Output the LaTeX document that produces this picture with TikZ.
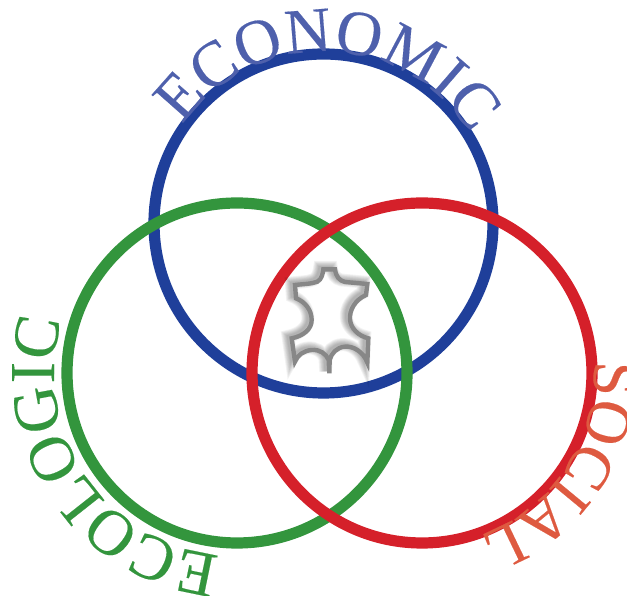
\documentclass[tikz,border=0pt]{standalone}
\usepackage{fontspec}
\setmainfont[FakeBold=0.25]{Liberation Serif}
\usetikzlibrary{decorations.text,calc}
\definecolor{ringblue}{HTML}{1F3F9A}
\definecolor{ringgreen}{HTML}{33953D}
\definecolor{ringred}{HTML}{D5202A}
\definecolor{wordblue}{HTML}{4E60AC}
\definecolor{wordgreen}{HTML}{33953D}
\definecolor{wordred}{HTML}{DE5A40}
\tikzset{
  ring/.style={line width=11.2pt},
  arcword/.style={decorate,decoration={text along path,text align={fit to path},text={#1}}},
}
\newcommand{\hidepath}{(45,75) .. controls (70,72) and (95,72) .. (112,65)
  .. controls (125,58) and (128,42) .. (130,28) -- (165,28)
  .. controls (168,50) and (178,62) .. (195,66) -- (262,72) -- (258,105)
  .. controls (225,120) and (208,150) .. (210,178)
  .. controls (212,205) and (235,228) .. (265,235) -- (262,308)
  .. controls (250,275) and (220,258) .. (195,260)
  .. controls (170,262) and (154,280) .. (149,300) -- (148,340) -- (146,300)
  .. controls (138,280) and (118,268) .. (95,270)
  .. controls (72,272) and (52,285) .. (45,305) -- (35,235)
  .. controls (70,228) and (95,208) .. (95,180)
  .. controls (95,150) and (75,125) .. (48,115) -- cycle}
\begin{document}
\begin{tikzpicture}[x=1pt,y=1pt]
\useasboundingbox (0,0) rectangle (627,596);
\clip (0,0) rectangle (627,596);
\coordinate (cb) at (323.5,372.5);
\coordinate (cg) at (237,223);
\coordinate (cr) at (422,223);
\draw[ring,ringblue] (cb) circle[radius=169.5pt];
\draw[ring,ringgreen] (cg) circle[radius=170pt];
\draw[ring,ringred] (cr) circle[radius=170pt];
% leather hide emblem
\begin{scope}[shift={(280,336)},x=0.3333pt,y=-0.3333pt,line join=miter]
  \begin{scope}[shift={(-11,-6)}]
    \foreach \w in {13,11.5,10,8.5,7,5.5,4,2.5}
      \draw[black,opacity=0.045,line width=\w pt] \hidepath;
  \end{scope}
  \draw[black!47,line width=4.4pt] \hidepath;
\end{scope}
% words
\path[arcword={|\fontsize{64}{64}\selectfont\color{wordblue}|ECONOMIC}]
  ($(cb)+(145:172)$) arc[start angle=145,end angle=35,radius=172pt];
\path[arcword={|\fontsize{64}{64}\selectfont\color{wordgreen}|ECOLOGIC}]
  ($(cg)+(264.5:183)$) arc[start angle=264.5,end angle=168,radius=183pt];
\path[arcword={|\fontsize{62}{62}\selectfont\color{wordred}|SOCIAL}]
  ($(cr)+(4:172)$) arc[start angle=4,end angle=-68.5,radius=172pt];
\end{tikzpicture}
\end{document}
